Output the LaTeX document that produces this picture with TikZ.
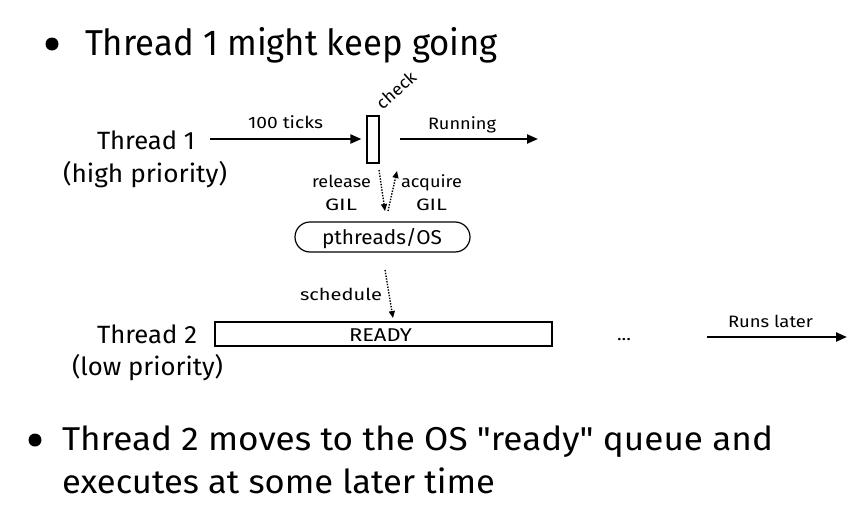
\documentclass[tikz,border=0pt]{standalone}
\usepackage{fontspec}
\setmainfont{Fira Sans}[Ligatures=TeXOff]
\usepackage{graphicx}
\usetikzlibrary{arrows.meta,shapes.misc}
\newcommand{\fitw}[3]{\resizebox{#1pt}{\height}{\fontsize{#2}{#2}\selectfont #3}}
\begin{document}
\begin{tikzpicture}[x=1pt,y=-1pt,
  lbl/.style={inner sep=0pt,outer sep=0pt,anchor=base west},
  arr/.style={line width=2.2pt,-{Triangle[length=11pt,width=9pt]}},
  dotarr/.style={line width=1.4pt,dash pattern=on 1.4pt off 1.4pt,-{Triangle[length=7pt,width=6pt]}},
  boxst/.style={draw,line width=1.2pt,inner sep=0pt},
  bulletdot/.style={fill=black,circle,inner sep=0pt,minimum size=13pt}]
\path[use as bounding box,fill=white] (0,0) rectangle (865,530);
% bullet 1
\node[bulletdot] (b1) at (52,44) {};
\node[lbl] (b1t) at (85,56) {\fitw{413}{36}{Thread 1 might keep going}};
% thread 1
\node[lbl] (t1) at (97,149) {\fitw{98}{25}{Thread 1}};
\node[lbl] (t1p) at (63,182) {\fitw{164}{25}{(high priority)}};
\node[boxst,minimum width=12pt,minimum height=47pt] (chk) at (373,139.5) {};
\coordinate (a1s) at (210,139);
\draw[arr] (a1s) -- ([xshift=-5pt]chk.west |- a1s) coordinate (a1e);
\node[lbl] (ticks) at (248,128) {\fitw{75}{16.5}{100 ticks}};
\coordinate (r1e) at (538,139);
\draw[arr] ([xshift=20pt]chk.east |- r1e) -- (r1e);
\node[lbl] (run) at (428,129) {\fitw{68}{16.5}{Running}};
\node[inner sep=0pt,rotate=42] (chktxt) at (396,90) {\fitw{47}{17}{check}};
% release / acquire
\node[lbl] (rel) at (312,187) {\fitw{59}{16.5}{release}};
\node[lbl] (gil1) at (325,210) {\fitw{32}{16.5}{GIL}};
\node[lbl] (acq) at (401,187) {\fitw{61}{16.5}{acquire}};
\node[lbl] (gil2) at (416,210) {\fitw{31}{16.5}{GIL}};
\node[draw,line width=1.2pt,rounded rectangle,minimum width=175pt,minimum height=30pt,inner sep=0pt] (os) at (382.5,237) {};
\node[lbl] (ostxt) at (322,244) {\fitw{120}{20}{pthreads/OS}};
\coordinate (relS) at (379,170);
\coordinate (relE) at (385,211);
\coordinate (acqS) at (388,211);
\coordinate (acqE) at (397,171);
\draw[dotarr] (relS) -- (relE);
\draw[dotarr] (acqS) -- (acqE);
% schedule
\node[lbl] (sch) at (300,300) {\fitw{82}{16.5}{schedule}};
\coordinate (schS) at (385,270);
\coordinate (schE) at (393,318);
\draw[dotarr] (schS) -- (schE);
% thread 2
\node[lbl] (t2) at (97,343) {\fitw{100}{25}{Thread 2}};
\node[lbl] (t2p) at (72,375) {\fitw{151}{25}{(low priority)}};
\node[boxst,minimum width=337pt,minimum height=24pt] (ready) at (383.5,334) {};
\node[lbl] (readytxt) at (349,341) {\fitw{63}{18.5}{READY}};
\node[lbl] (dots) at (617,340) {\fitw{14}{16.5}{...}};
\coordinate (rlS) at (707,337);
\coordinate (rlE) at (847,337);
\draw[arr] (rlS) -- (rlE);
\node[lbl] (rl) at (728,327) {\fitw{85}{16.5}{Runs later}};
% bullet 2
\node[bulletdot] (b2) at (35,440) {};
\node[lbl] (b2t1) at (62,450) {\fitw{711}{33}{Thread 2 moves to the OS "ready" queue and}};
\node[lbl] (b2t2) at (62,493) {\fitw{433}{33}{executes at some later time}};
\end{tikzpicture}
\end{document}
